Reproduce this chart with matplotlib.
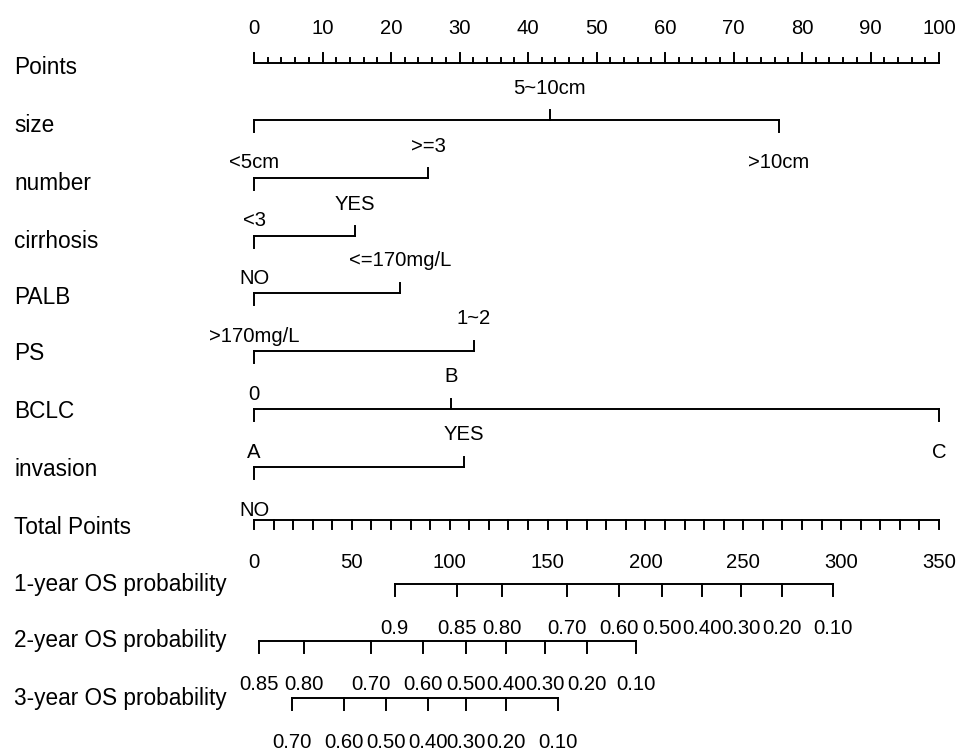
import numpy as np
import matplotlib
matplotlib.use("Agg")
import matplotlib.pyplot as plt
import matplotlib.transforms as mtrans

plt.rcParams['font.family'] = ["Liberation Sans", "DejaVu Sans"]

row_names = ["Points", "size", "number", "cirrhosis", "PALB", "PS", "BCLC", "invasion",
             "Total Points", "1-year OS probability", "2-year OS probability", "3-year OS probability"]

# level names and points of each variable
size_levels = ["<5cm", "5~10cm", ">10cm"]
size_pts = [0, 43.2, 76.6]
number_levels = ["<3", ">=3"]
number_pts = [0, 25.4]
cirrhosis_levels = ["NO", "YES"]
cirrhosis_pts = [0, 14.7]
palb_levels = [">170mg/L", "<=170mg/L"]
palb_pts = [0, 21.3]
ps_levels = ["0", "1~2"]
ps_pts = [0, 32.1]
bclc_levels = ["A", "B", "C"]
bclc_pts = [0, 28.8, 100]
invasion_levels = ["NO", "YES"]
invasion_pts = [0, 30.7]

total_max = 350
os1_labels = ["0.9", "0.85", "0.80", "0.70", "0.60", "0.50", "0.40", "0.30", "0.20", "0.10"]
os1_tp = [71.9, 103.6, 126.5, 160.1, 186.4, 208.6, 228.7, 248.8, 269.6, 295.6]
os2_labels = ["0.85", "0.80", "0.70", "0.60", "0.50", "0.40", "0.30", "0.20", "0.10"]
os2_tp = [2.7, 25.7, 60.0, 86.3, 108.1, 128.9, 148.6, 170.2, 195.2]
os3_labels = ["0.70", "0.60", "0.50", "0.40", "0.30", "0.20", "0.10"]
os3_tp = [19.3, 46.0, 67.6, 88.9, 108.1, 128.9, 155.2]

W, H = 957, 754
fig = plt.figure(figsize=(W / 100, H / 100), dpi=100)
ax = fig.add_axes([0, 0, 1, 1])
px = 6.85  # pixels per point
x0 = 254
ax.set_xlim(-x0 / px, (W - x0) / px)
ax.set_ylim(H, 0)
ax.axis("off")

FS = 16.3   # row names
FN = 14.6   # numbers / levels
lw = 1.4
row_y = [68, 126, 184, 241, 297, 354, 411, 469, 527, 584, 641, 698]
line_y = [63, 120, 178, 236, 293, 351, 409, 467, 520, 584, 641, 698]

tr = mtrans.blended_transform_factory(fig.transFigure, ax.transData)
for name, y in zip(row_names, row_y):
    ax.text(14 / W, y, name, transform=tr, fontsize=FS, ha="left", va="center")

# Points axis
y = line_y[0]
ax.plot([0, 100], [y, y], color="black", lw=lw)
for v in range(0, 101, 2):
    L = 10 if v % 10 == 0 else 5
    ax.plot([v, v], [y, y - L], color="black", lw=lw)
for v in range(0, 101, 10):
    ax.text(v, 29, str(v), fontsize=FN, ha="center", va="center")

# variable rows
rows = [(size_levels, size_pts), (number_levels, number_pts), (cirrhosis_levels, cirrhosis_pts),
        (palb_levels, palb_pts), (ps_levels, ps_pts), (bclc_levels, bclc_pts),
        (invasion_levels, invasion_pts)]
for i, (levs, pts) in enumerate(rows):
    y = line_y[i + 1]
    ax.plot([min(pts), max(pts)], [y, y], color="black", lw=lw)
    for j, (lab, p) in enumerate(zip(levs, pts)):
        if j % 2 == 1:
            ax.plot([p, p], [y, y - 10], color="black", lw=lw)
            ax.text(p, y - 32, lab, fontsize=FN, ha="center", va="center")
        else:
            ax.plot([p, p], [y, y + 12], color="black", lw=lw)
            ax.text(p, y + 43, lab, fontsize=FN, ha="center", va="center")

# Total points
y = line_y[8]
sc = 100 / total_max
ax.plot([0, 100], [y, y], color="black", lw=lw)
for v in range(0, total_max + 1, 10):
    ax.plot([v * sc, v * sc], [y, y + 9], color="black", lw=lw)
for v in range(0, total_max + 1, 50):
    ax.text(v * sc, y + 43, str(v), fontsize=FN, ha="center", va="center")

# probability axes
for k, (labs, tps) in enumerate([(os1_labels, os1_tp), (os2_labels, os2_tp), (os3_labels, os3_tp)]):
    y = line_y[9 + k]
    xs = [t * sc for t in tps]
    ax.plot([xs[0], xs[-1]], [y, y], color="black", lw=lw)
    for xv, lab in zip(xs, labs):
        ax.plot([xv, xv], [y, y + 12], color="black", lw=lw)
        ax.text(xv, y + 44, lab, fontsize=FN, ha="center", va="center")

fig.savefig("out.png", dpi=100)
